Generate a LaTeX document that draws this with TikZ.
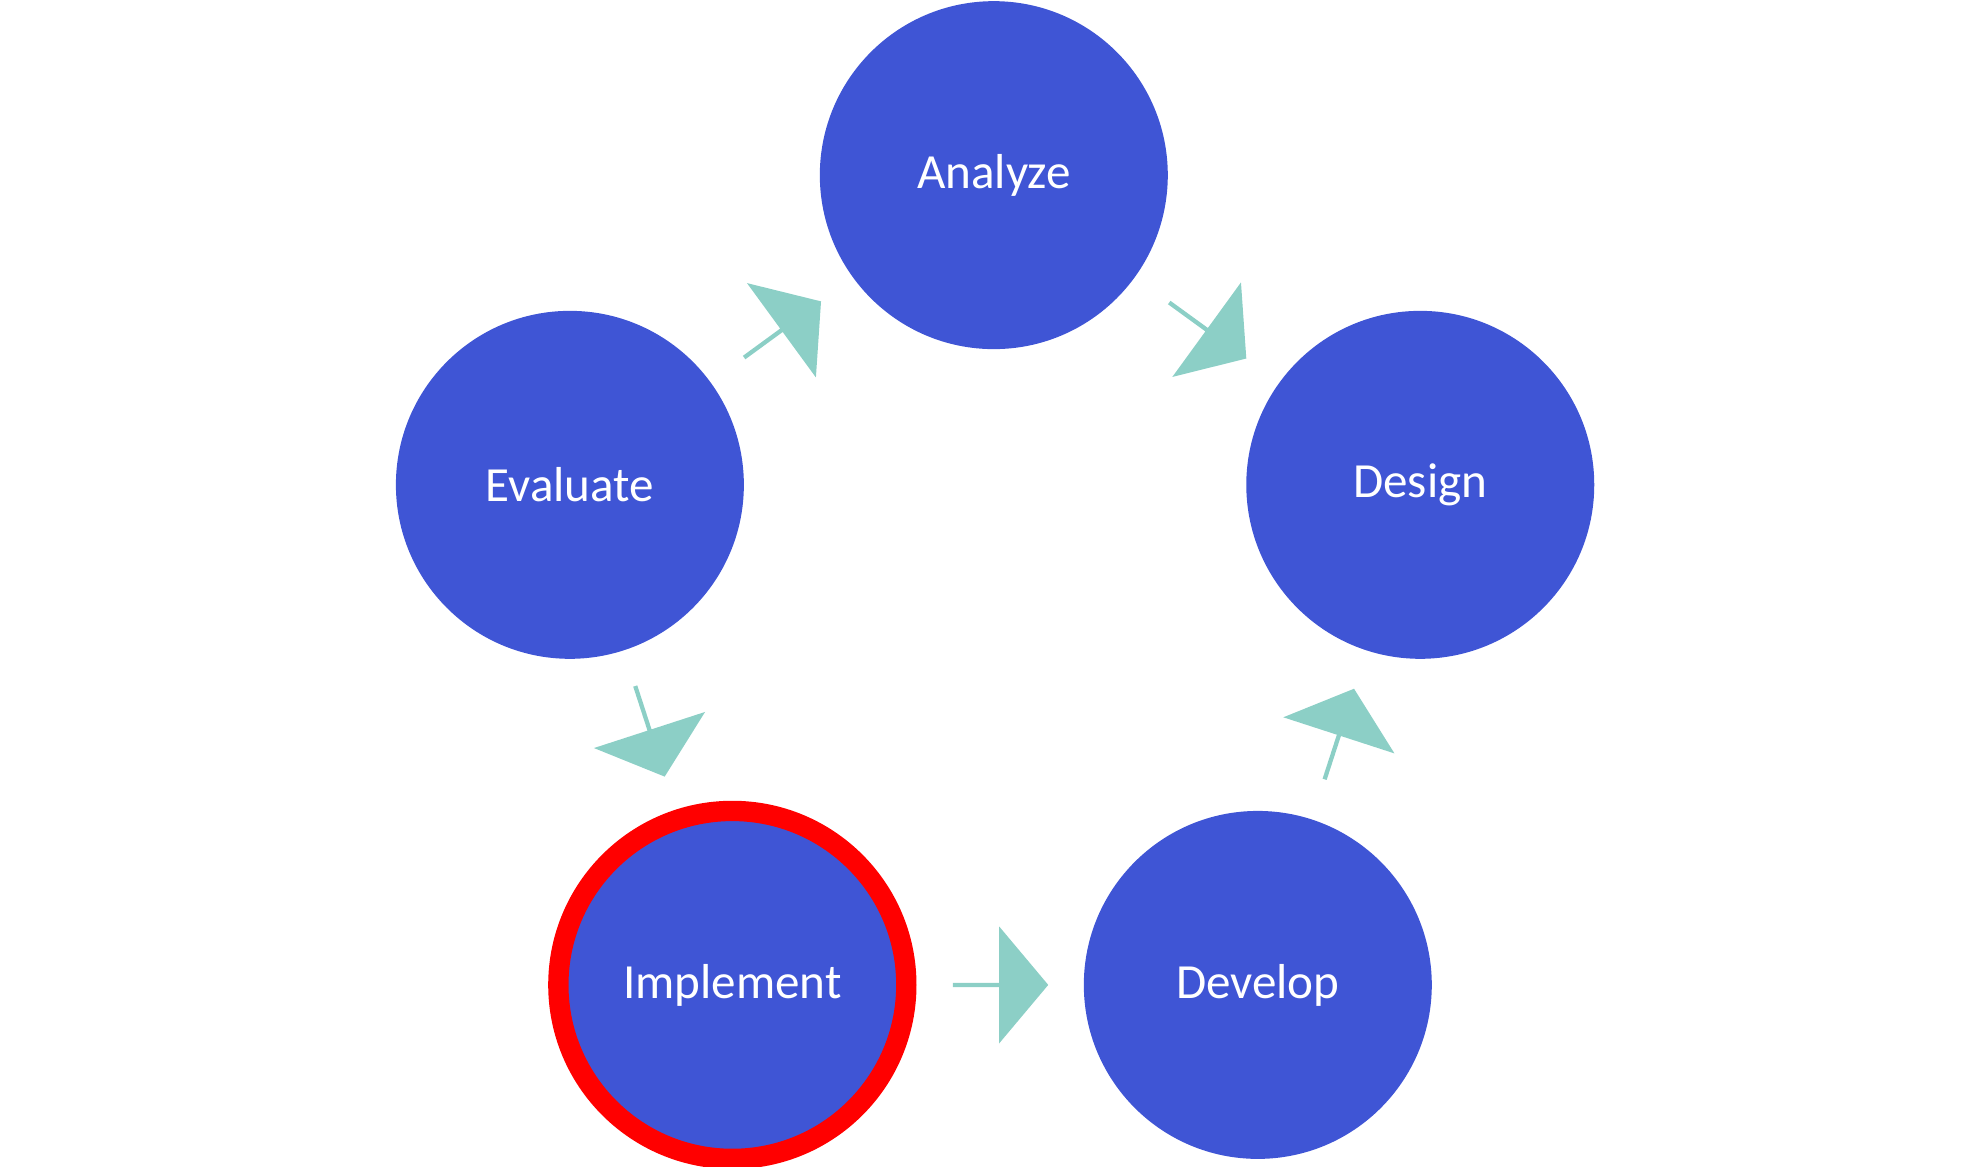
\documentclass[tikz,border=0pt]{standalone}
\usepackage{fontspec}
\setmainfont{Carlito}
\usetikzlibrary{shapes.arrows}
\definecolor{stageblue}{HTML}{3F55D5}
\definecolor{flowgreen}{HTML}{8CCFC6}
\begin{document}
\begin{tikzpicture}[x=0.01cm,y=-0.01cm]
       \tikzstyle{stage} = [circle, fill=stageblue, text=white, minimum size=2.74cm, font=\fontsize{11}{13}\selectfont];
       \tikzstyle{flow} = [single arrow, fill=flowgreen, draw=none, minimum height=0.75cm, minimum width=0.92cm, single arrow head extend=0.185cm, inner sep=0pt, sloped, single arrow tip angle=100];
       \useasboundingbox (0,0) rectangle (1560,919);
       \node[stage] (analyze) at (783,138) {Analyze};
       \node[stage] (design) at (1119,382) {Design};
       \node[stage] (develop) at (991,776) {Develop};
       \node[stage, draw=red, line width=0.16cm] (implement) at (577,776) {Implement};
       \node[stage] (evaluate) at (449,382) {Evaluate};
       % arrows between stages
       \path (analyze) -- node[flow]{} (design);
       \path (design) -- node[flow]{} (develop);
       \path (develop) -- node[flow]{} (implement);
       \path (implement) -- node[flow]{} (evaluate);
       \path (evaluate) -- node[flow]{} (analyze);
     \end{tikzpicture}
\end{document}
